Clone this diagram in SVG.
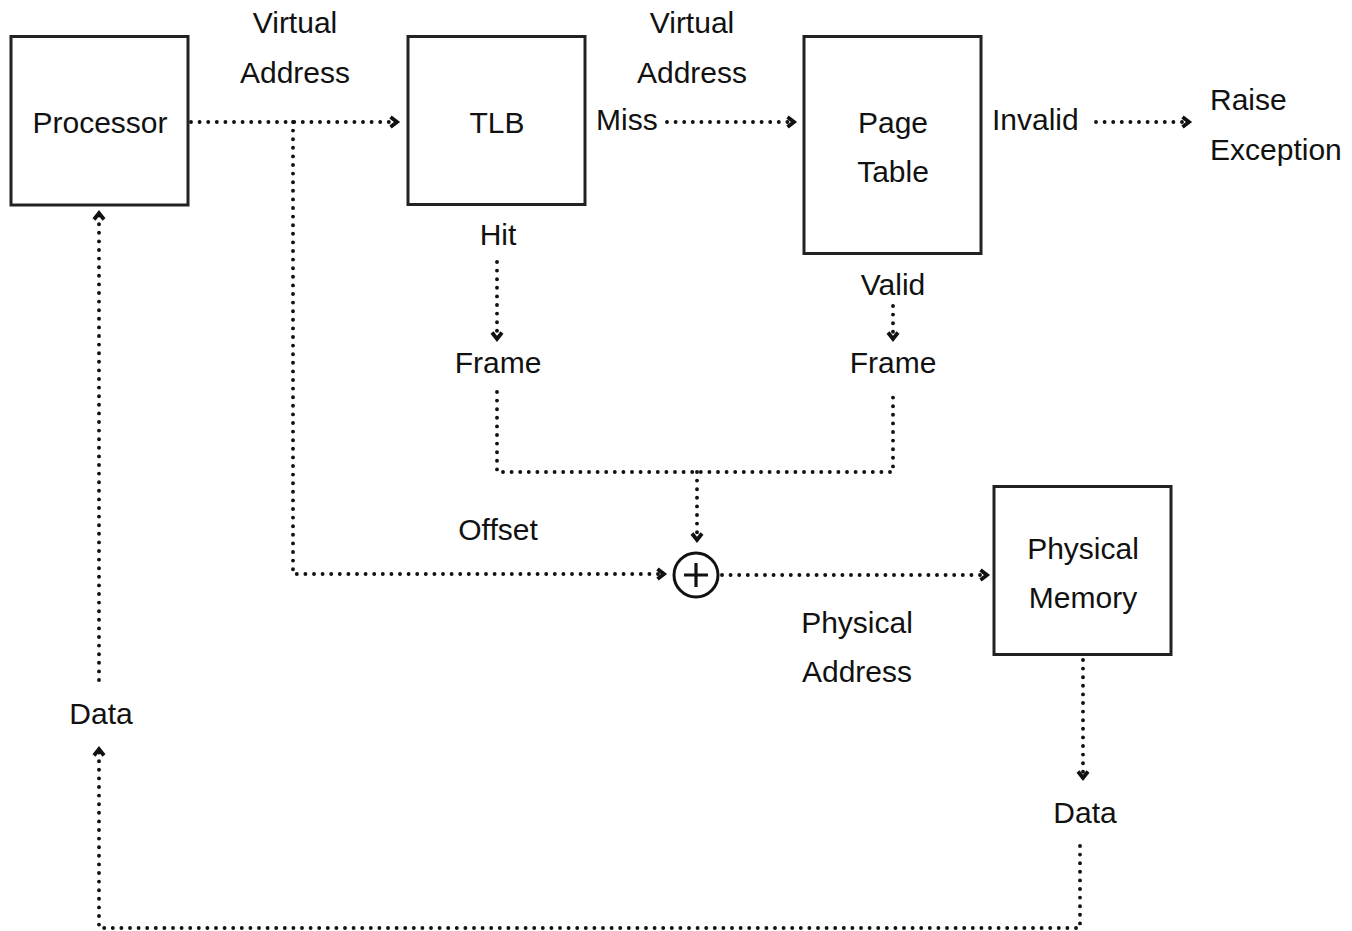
<svg xmlns="http://www.w3.org/2000/svg" width="1352" height="931" viewBox="0 0 1352 931">
<style>
text{font-family:"Liberation Sans",Arial,sans-serif;font-size:30px;fill:#111}
.c{text-anchor:middle}
.box{fill:#fff;stroke:#222;stroke-width:3}
.d{fill:none;stroke:#111;stroke-width:3.9;stroke-linecap:round;stroke-dasharray:0 8.6}
</style>
<defs>
<marker id="a" markerUnits="userSpaceOnUse" markerWidth="18" markerHeight="18" viewBox="-11 -9 13 18" refX="0" refY="0" orient="auto">
<path d="M-6.5,-5 L0,0 L-6.5,5" fill="none" stroke="#111" stroke-width="3.8" stroke-linejoin="miter"/>
</marker>
</defs>
<rect width="1352" height="931" fill="#fff"/>
<g id="connectors">
<path class="d" d="M191,122 H397" marker-end="url(#a)"/>
<path class="d" d="M293,122 V574 H664" marker-end="url(#a)"/>
<path class="d" d="M667,122 H794" marker-end="url(#a)"/>
<path class="d" d="M1096,122 H1189" marker-end="url(#a)"/>
<path class="d" d="M497,262 V339" marker-end="url(#a)"/>
<path class="d" d="M893,306 V339" marker-end="url(#a)"/>
<path class="d" d="M497,392 V472 H893 V395"/>
<path class="d" d="M697,472 V540" marker-end="url(#a)"/>
<path class="d" d="M722,575 H987" marker-end="url(#a)"/>
<path class="d" d="M1083,660 V778" marker-end="url(#a)"/>
<path class="d" d="M1080,846 V928 H99 V749" marker-end="url(#a)"/>
<path class="d" d="M99,680 V213" marker-end="url(#a)"/>
</g>
<g id="processor"><rect class="box" x="11" y="36.5" width="177" height="168.5"/><text class="c" x="100" y="133">Processor</text></g>
<g id="tlb"><rect class="box" x="408" y="36.5" width="177" height="168"/><text class="c" x="497" y="133">TLB</text></g>
<g id="page-table"><rect class="box" x="804" y="36.5" width="177" height="217"/><text class="c" x="893" y="133">Page</text><text class="c" x="893" y="182">Table</text></g>
<g id="physical-memory"><rect class="box" x="994" y="486.5" width="177" height="168"/><text class="c" x="1083" y="559">Physical</text><text class="c" x="1083" y="608">Memory</text></g>
<g id="adder"><circle cx="696" cy="575" r="22" fill="#fff" stroke="#111" stroke-width="3"/><path d="M684,575 H708 M696,563 V587" stroke="#111" stroke-width="3.2"/></g>
<g id="labels">
<text class="c" x="295" y="33">Virtual</text>
<text class="c" x="295" y="83">Address</text>
<text class="c" x="692" y="33">Virtual</text>
<text class="c" x="692" y="83">Address</text>
<text x="596" y="130">Miss</text>
<text x="992" y="130">Invalid</text>
<text x="1210" y="110">Raise</text>
<text x="1210" y="160">Exception</text>
<text class="c" x="498" y="245">Hit</text>
<text class="c" x="893" y="295">Valid</text>
<text class="c" x="498" y="373">Frame</text>
<text class="c" x="893" y="373">Frame</text>
<text class="c" x="498" y="540">Offset</text>
<text class="c" x="857" y="633">Physical</text>
<text class="c" x="857" y="682">Address</text>
<text class="c" x="101" y="724">Data</text>
<text class="c" x="1085" y="823">Data</text>
</g>
</svg>
